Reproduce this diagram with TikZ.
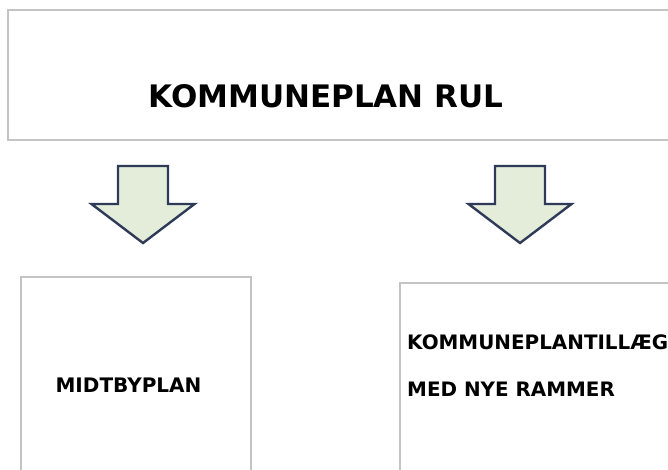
\documentclass[tikz,border=0pt]{standalone}
\usepackage{fontspec}
\usepackage{tikz}
\newfontfamily\planfont{DejaVu Sans}
\definecolor{rammegraa}{RGB}{196,196,196}
\definecolor{pilgroen}{RGB}{227,237,217}
\definecolor{pilblaa}{RGB}{47,58,88}
\tikzset{
  planboks/.style={draw=rammegraa, line width=1.6pt, fill=white,
    anchor=north west, inner sep=0pt},
  plantekst/.style={font=\planfont\bfseries, text=black, inner sep=0pt},
  blokpil/.style={draw=pilblaa, fill=pilgroen, line width=2.4pt,
    line join=miter}
}

\begin{document}
\begin{tikzpicture}[x=1pt,y=-1pt]
    \path [use as bounding box, clip] (0,0) rectangle (668,470) ;
    \fill [white] (0,0) rectangle (668,470) ;
    % boksene
    \node [planboks, minimum width=700pt, minimum height=130pt]
      (rul) at (7,9) {} ;
    \node [planboks, minimum width=230pt, minimum height=220pt]
      (midtby) at (20,276) {} ;
    \node [planboks, minimum width=300pt, minimum height=220pt]
      (tillaeg) at (399,282) {} ;
    % teksterne
    \node [plantekst, font=\planfont\bfseries\fontsize{31}{36}\selectfont]
      (rultekst) at (326,96) {KOMMUNEPLAN RUL} ;
    \node [plantekst, font=\planfont\bfseries\fontsize{20}{24}\selectfont]
      (midtbytekst) at (128.5,385) {MIDTBYPLAN} ;
    \node [plantekst, anchor=west,
      font=\planfont\bfseries\fontsize{19.9}{24}\selectfont]
      (tillaegtekst1) at (407,342) {KOMMUNEPLANTILLÆG} ;
    \node [plantekst, anchor=west,
      font=\planfont\bfseries\fontsize{19.9}{24}\selectfont]
      (tillaegtekst2) at (407,389) {MED NYE RAMMER} ;
    % pilene
    \foreach \cx in {143,520}
      \draw [blokpil] ({\cx-25},166) -- ({\cx+25},166) -- ({\cx+25},204)
        -- ({\cx+51.5},204) -- (\cx,243) -- ({\cx-51.5},204)
        -- ({\cx-25},204) -- cycle ;
  \end{tikzpicture}
\end{document}
